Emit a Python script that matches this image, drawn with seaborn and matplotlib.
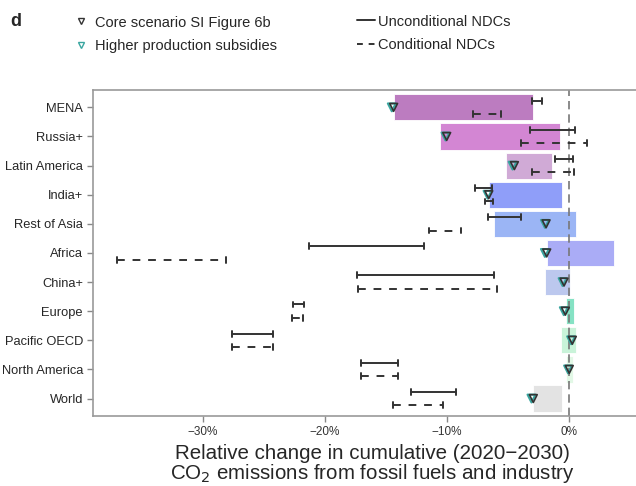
import numpy as np
import pandas as pd
import seaborn as sns
import matplotlib
matplotlib.use("Agg")
import matplotlib.pyplot as plt
from matplotlib.lines import Line2D

# regions, top to bottom
regions = ["MENA", "Russia+", "Latin America", "India+", "Rest of Asia", "Africa",
           "China+", "Europe", "Pacific OECD", "North America", "World"]

# range bars (%)
bar_lo = [-14.3, -10.55, -5.15, -6.5, -6.1, -1.8, -1.9, -0.25, -0.62, -0.22, -2.95]
bar_hi = [-2.9, -0.75, -1.4, -0.55, 0.6, 3.75, 0.1, 0.46, 0.57, 0.33, -0.55]
bar_colors = ["#bc7cc0", "#d386d3", "#d0aad6", "#8f9ef9", "#9bb5f5", "#aaacf6",
              "#bcc8ee", "#86e2c4", "#c9f3d9", "#e2f8e6", "#e3e3e3"]

# triangles (%)
core = [-14.35, -10.0, -4.45, -6.55, -1.85, -1.8, -0.38, -0.27, 0.3, 0.05, -2.9]
subsidies = [-14.5, -10.1, -4.6, -6.65, -1.95, -1.95, -0.5, -0.4, 0.2, -0.05, -3.05]

# unconditional NDC ranges (%)
uncond_lo = [-2.98, -3.17, -1.12, -7.65, -6.64, -21.3, -17.38, -22.62, -27.62, -17.05, -12.93]
uncond_hi = [-2.21, 0.52, 0.33, -6.29, -3.93, -11.84, -6.12, -21.7, -24.26, -13.99, -9.21]
# conditional NDC ranges (%)
cond_lo = [-7.82, -3.91, -2.98, -6.86, -11.45, -37.0, -17.25, -22.7, -27.62, -17.05, -14.38]
cond_hi = [-5.55, 1.47, 0.46, -6.18, -8.85, -28.1, -5.85, -21.75, -24.26, -13.99, -10.33]

xticks = [-30, -20, -10, 0]
xticklabels = ["\u221230%", "\u221220%", "\u221210%", "0%"]

df = pd.DataFrame({"region": regions, "lo": bar_lo, "hi": bar_hi,
                   "core": core, "subs": subsidies})
df["y"] = np.arange(len(df))

sns.set_style("ticks")
plt.rcParams["font.family"] = ["Liberation Sans", "DejaVu Sans"]

fig = plt.figure(figsize=(6.36, 4.86), dpi=100)
ax = fig.add_axes([0.1467, 0.144, 0.8533, 0.671])

ax.barh(df["y"], df["hi"] - df["lo"], left=df["lo"], height=0.9,
        color=bar_colors, edgecolor="white", linewidth=0.6, zorder=1)

ax.axvline(0, color="#777777", linestyle=(0, (5, 3)), linewidth=1.2, zorder=2)

dark = "#333333"
teal = "#3aa6a0"
for i in range(len(regions)):
    y1 = i - 0.23
    y2 = i + 0.23
    ax.plot([uncond_lo[i], uncond_hi[i]], [y1, y1], color=dark, lw=1.4, zorder=3)
    ax.plot([cond_lo[i], cond_hi[i]], [y2, y2], color=dark, lw=1.4,
            linestyle=(0, (4, 4)), zorder=3)
    for xv, yv in [(uncond_lo[i], y1), (uncond_hi[i], y1),
                   (cond_lo[i], y2), (cond_hi[i], y2)]:
        ax.plot([xv, xv], [yv - 0.1, yv + 0.1], color=dark, lw=1.4, zorder=3)

sns.scatterplot(data=df, x="subs", y="y", marker="v", s=32, facecolor="none",
                edgecolor=teal, linewidth=1.5, ax=ax, zorder=4)
sns.scatterplot(data=df, x="core", y="y", marker="v", s=32, facecolor="none",
                edgecolor=dark, linewidth=1.2, ax=ax, zorder=5)

ax.set_yticks(df["y"])
ax.set_yticklabels(regions, fontsize=9.3)
ax.set_ylim(10.6, -0.6)
ax.set_xlim(-38.97, 5.52)
ax.set_xticks(xticks)
ax.set_xticklabels(xticklabels, fontsize=8.5, color="#333333")
ax.set_ylabel("")
ax.set_xlabel("Relative change in cumulative (2020\u22122030)\nCO$_2$ emissions from fossil fuels and industry",
              fontsize=14.8, linespacing=0.95, labelpad=4)
ax.xaxis.label.set_x(0.515)
ax.tick_params(axis="both", length=4, color="#888888", width=1)
for s in ["left", "bottom", "top"]:
    ax.spines[s].set_color("#999999")
    ax.spines[s].set_linewidth(1.2)
ax.spines["right"].set_visible(False)

fig.text(0.016, 0.955, "d", fontsize=13, fontweight="bold", va="center")

h1 = [Line2D([], [], marker="v", linestyle="none", markerfacecolor="none",
             markeredgecolor=dark, markersize=5),
      Line2D([], [], marker="v", linestyle="none", markerfacecolor="none",
             markeredgecolor=teal, markersize=5)]
fig.legend(h1, ["Core scenario SI Figure 6b", "Higher production subsidies"],
           loc="upper left", bbox_to_anchor=(0.095, 0.995), frameon=False,
           fontsize=10.5, handlelength=1.0, handletextpad=0.45, labelspacing=0.68)

h2 = [Line2D([], [], color=dark, lw=1.4),
      Line2D([], [], color=dark, lw=1.4, linestyle=(0, (3, 3)))]
fig.legend(h2, ["Unconditional NDCs", "Conditional NDCs"],
           loc="upper left", bbox_to_anchor=(0.541, 0.997), frameon=False,
           fontsize=10.5, handlelength=1.2, handletextpad=0.25, labelspacing=0.68)

fig.savefig("out.png", dpi=100)
